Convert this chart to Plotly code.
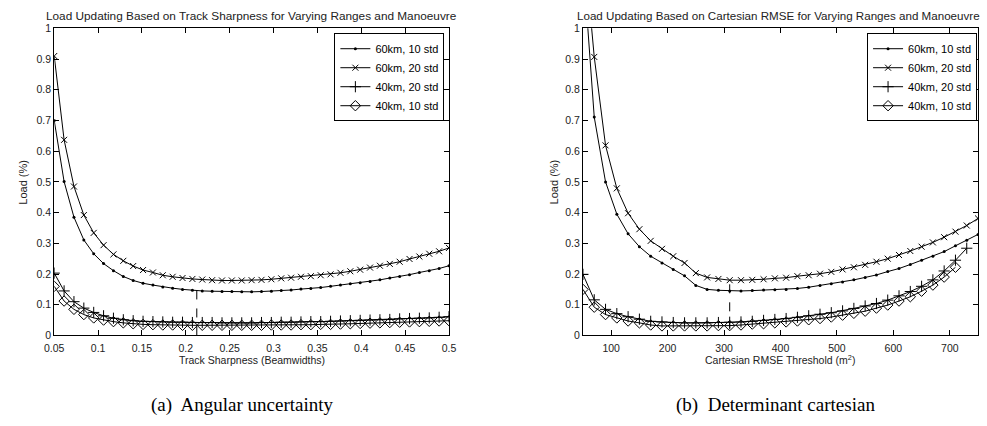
import plotly.graph_objects as go

W, H = 987, 426

# ---------------- data ----------------
SERIES_NAMES = ["60km, 10 std", "60km, 20 std", "40km, 20 std", "40km, 10 std"]

# (a) Track sharpness (beamwidths)
L_X = [0.05, 0.06125, 0.0725, 0.08375, 0.095, 0.10625, 0.1175, 0.12875, 0.14, 0.15125,
       0.1625, 0.17375, 0.185, 0.19625, 0.2075, 0.21875, 0.23, 0.24125, 0.2525, 0.26375,
       0.275, 0.28625, 0.2975, 0.30875, 0.32, 0.33125, 0.3425, 0.35375, 0.365, 0.37625,
       0.3875, 0.39875, 0.41, 0.42125, 0.4325, 0.44375, 0.455, 0.46625, 0.4775, 0.48875, 0.5]
L_60_10 = [0.70, 0.501, 0.385, 0.311, 0.266, 0.234, 0.211, 0.192, 0.179, 0.170,
           0.164, 0.158, 0.154, 0.150, 0.147, 0.145, 0.144, 0.143, 0.143, 0.142,
           0.142, 0.143, 0.144, 0.146, 0.148, 0.151, 0.153, 0.156, 0.160, 0.164,
           0.168, 0.172, 0.176, 0.181, 0.187, 0.192, 0.198, 0.205, 0.211, 0.218, 0.227]
L_60_20 = [0.91, 0.637, 0.485, 0.392, 0.334, 0.294, 0.264, 0.243, 0.226, 0.213,
           0.205, 0.196, 0.191, 0.187, 0.184, 0.182, 0.180, 0.179, 0.179, 0.179,
           0.180, 0.181, 0.183, 0.186, 0.188, 0.191, 0.193, 0.196, 0.199, 0.204,
           0.209, 0.214, 0.221, 0.227, 0.233, 0.240, 0.249, 0.257, 0.266, 0.274, 0.285]
L_40_20 = [0.203, 0.145, 0.110, 0.089, 0.075, 0.064, 0.056, 0.051, 0.048, 0.046,
           0.045, 0.044, 0.043, 0.043, 0.042, 0.042, 0.042, 0.041, 0.041, 0.041,
           0.041, 0.042, 0.042, 0.043, 0.043, 0.044, 0.045, 0.045, 0.046, 0.047,
           0.048, 0.049, 0.050, 0.051, 0.052, 0.054, 0.055, 0.056, 0.057, 0.059, 0.061]
L_40_10 = [0.160, 0.112, 0.085, 0.068, 0.057, 0.050, 0.045, 0.041, 0.038, 0.036,
           0.035, 0.034, 0.034, 0.033, 0.033, 0.033, 0.033, 0.033, 0.033, 0.033,
           0.033, 0.033, 0.034, 0.034, 0.034, 0.035, 0.035, 0.036, 0.036, 0.037,
           0.038, 0.039, 0.040, 0.041, 0.042, 0.043, 0.044, 0.045, 0.046, 0.047, 0.048]
L_DASH_X = [0.2125, 0.2125]
L_DASH_Y = [0.0, 0.145]
L_TICKS = [0.05, 0.1, 0.15, 0.2, 0.25, 0.3, 0.35, 0.4, 0.45, 0.5]
L_TICKTEXT = ["0.05", "0.1", "0.15", "0.2", "0.25", "0.3", "0.35", "0.4", "0.45", "0.5"]

# (b) Cartesian RMSE threshold
R_X = [50, 70, 90, 110, 130, 150, 170, 190, 210, 230, 250, 270, 290, 310, 330, 350, 370, 390,
       410, 430, 450, 470, 490, 510, 530, 550, 570, 590, 610, 630, 650, 670, 690, 710, 730, 750]
R_60_10 = [1.22, 0.711, 0.500, 0.395, 0.331, 0.289, 0.258, 0.236, 0.215, 0.194,
           0.163, 0.150, 0.147, 0.145, 0.145, 0.146, 0.148, 0.149, 0.150, 0.153,
           0.157, 0.163, 0.168, 0.174, 0.181, 0.189, 0.197, 0.208, 0.218, 0.231,
           0.245, 0.258, 0.273, 0.292, 0.310, 0.329]
R_60_20 = [1.31, 0.907, 0.619, 0.479, 0.398, 0.346, 0.308, 0.282, 0.258, 0.236,
           0.203, 0.189, 0.184, 0.180, 0.180, 0.181, 0.183, 0.186, 0.188, 0.193,
           0.196, 0.201, 0.207, 0.215, 0.222, 0.230, 0.240, 0.250, 0.262, 0.275,
           0.289, 0.303, 0.320, 0.338, 0.358, 0.381]
R_40_20 = [0.199, 0.116, 0.085, 0.071, 0.061, 0.053, 0.046, 0.044, 0.042, 0.041,
           0.041, 0.041, 0.042, 0.043, 0.044, 0.046, 0.049, 0.052, 0.055, 0.059,
           0.064, 0.069, 0.074, 0.080, 0.088, 0.096, 0.104, 0.115, 0.129, 0.143,
           0.160, 0.181, 0.210, 0.245, 0.284]
R_40_10 = [0.150, 0.092, 0.068, 0.057, 0.047, 0.041, 0.034, 0.031, 0.031, 0.031,
           0.031, 0.031, 0.032, 0.032, 0.034, 0.037, 0.038, 0.041, 0.044, 0.047,
           0.051, 0.055, 0.060, 0.066, 0.072, 0.079, 0.089, 0.099, 0.112, 0.126,
           0.144, 0.164, 0.190, 0.222]
R_DASH_X = [310, 310]
R_DASH_Y = [0.02, 0.18]
R_TICKS = [100, 200, 300, 400, 500, 600, 700]

Y_TICKS = [0, 0.1, 0.2, 0.3, 0.4, 0.5, 0.6, 0.7, 0.8, 0.9, 1]
Y_TICKTEXT = ["0", "0.1", "0.2", "0.3", "0.4", "0.5", "0.6", "0.7", "0.8", "0.9", "1"]

# ---------------- styles ----------------
FONT = "Liberation Sans, Arial, sans-serif"
SERIF = "Liberation Serif, Times New Roman, serif"
MARKERS = [
    dict(symbol="circle", size=3, color="black"),
    dict(symbol="x-thin", size=6, color="black", line=dict(width=1, color="black")),
    dict(symbol="cross-thin", size=8, color="black", line=dict(width=1, color="black")),
    dict(symbol="diamond-open", size=8, color="black", line=dict(width=1, color="black")),
]

fig = go.Figure()

left = [L_60_10, L_60_20, L_40_20, L_40_10]
right = [R_60_10, R_60_20, R_40_20, R_40_10]

for name, ys, mk in zip(SERIES_NAMES, left, MARKERS):
    fig.add_trace(go.Scatter(x=L_X[:len(ys)], y=ys, mode="lines+markers", name=name,
                             line=dict(color="black", width=1), marker=mk,
                             xaxis="x", yaxis="y", legend="legend"))
for name, ys, mk in zip(SERIES_NAMES, right, MARKERS):
    fig.add_trace(go.Scatter(x=R_X[:len(ys)], y=ys, mode="lines+markers", name=name,
                             line=dict(color="black", width=1), marker=mk,
                             xaxis="x2", yaxis="y2", legend="legend2"))

fig.add_trace(go.Scatter(x=L_DASH_X, y=L_DASH_Y, mode="lines", showlegend=False,
                         line=dict(color="black", width=1, dash="dash"), xaxis="x", yaxis="y"))
fig.add_trace(go.Scatter(x=R_DASH_X, y=R_DASH_Y, mode="lines", showlegend=False,
                         line=dict(color="black", width=1, dash="dash"), xaxis="x2", yaxis="y2"))


def px_x(p):
    return p / W


def px_y(p):
    return 1 - p / H


Y_DOM = [px_y(339), px_y(23)]
axis_common = dict(showline=True, linecolor="black", linewidth=1, mirror="ticks",
                   ticks="inside", ticklen=5, tickcolor="black", tickwidth=1,
                   showgrid=False, zeroline=False,
                   tickfont=dict(family=FONT, size=10.5, color="#222"))

fig.update_layout(
    width=W, height=H, margin=dict(l=0, r=0, t=0, b=0),
    paper_bgcolor="white", plot_bgcolor="white",
    xaxis=dict(domain=[px_x(45), px_x(446.7)], range=[0.05, 0.5], tickvals=L_TICKS,
               ticktext=L_TICKTEXT, anchor="y", ticklabelstandoff=3, **axis_common),
    yaxis=dict(domain=Y_DOM, range=[0, 1], tickvals=Y_TICKS, ticktext=Y_TICKTEXT,
               anchor="x", **axis_common),
    xaxis2=dict(domain=[px_x(583), px_x(985)], range=[50, 750], tickvals=R_TICKS,
                anchor="y2", ticklabelstandoff=3, **axis_common),
    yaxis2=dict(domain=Y_DOM, range=[0, 1], tickvals=Y_TICKS, ticktext=Y_TICKTEXT,
                anchor="x2", **axis_common),
    legend=dict(x=px_x(442), y=px_y(28), xanchor="right", yanchor="top",
                bordercolor="black", borderwidth=1, bgcolor="white",
                font=dict(family=FONT, size=11, color="black"), tracegroupgap=0),
    legend2=dict(x=px_x(984), y=px_y(28), xanchor="right", yanchor="top",
                 bordercolor="black", borderwidth=1, bgcolor="white",
                 font=dict(family=FONT, size=11, color="black"), tracegroupgap=0),
    showlegend=True,
)

ann = []
def label(text, x, y, size, family=FONT, angle=0, color="#222"):
    ann.append(dict(text=text, x=px_x(x), y=px_y(y), xref="paper", yref="paper",
                    xanchor="center", yanchor="middle", showarrow=False, textangle=angle,
                    font=dict(family=family, size=size, color=color)))

label("Load Updating Based on Track Sharpness for Varying Ranges and Manoeuvre", 246, 10, 11.8)
label("Load Updating Based on Cartesian RMSE for Varying Ranges and Manoeuvre", 782, 10, 11.6)
label("Track Sharpness (Beamwidths)", 246, 364, 10.5)
label("Cartesian RMSE Threshold (m<sup>2</sup>)", 784, 364, 10.5)
label("Load (%)", 13, 181, 11, angle=-90)
label("Load (%)", 553, 181, 11, angle=-90)
label("(a)  Angular uncertainty", 237, 411, 19, family=SERIF, color="black")
label("(b)  Determinant cartesian", 779, 411, 19, family=SERIF, color="black")
fig.update_layout(annotations=ann)

fig.write_html("out.html")
